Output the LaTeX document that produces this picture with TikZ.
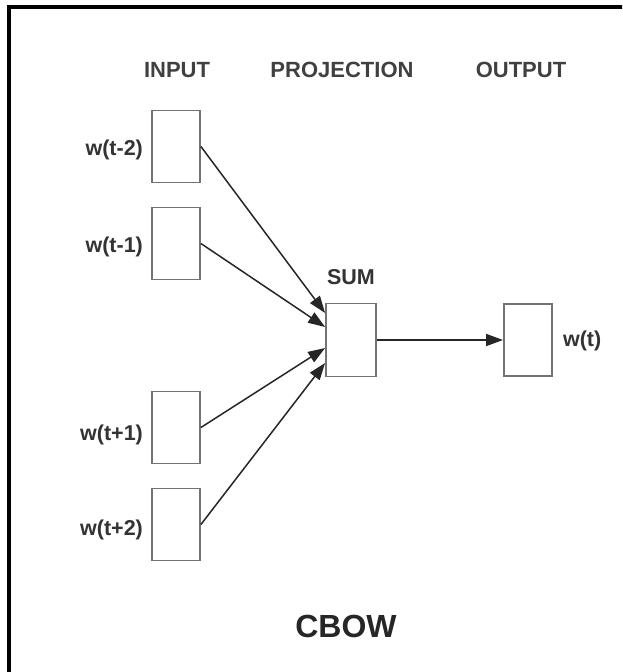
\documentclass[tikz,border=0pt]{standalone}
\usepackage{fontspec}
\setmainfont{Liberation Sans}
\usetikzlibrary{arrows.meta, positioning}

\begin{document}
\begin{tikzpicture}[x=1pt, y=-1pt,
    wordbox/.style={draw=gray!90!black, line width=1.8pt, fill=white, minimum width=48pt, minimum height=72pt, inner sep=0pt},
    wordlabel/.style={font=\bfseries\fontsize{21.5}{25}\selectfont, text=black!80, inner sep=0pt},
    headlabel/.style={font=\bfseries\fontsize{22}{26}\selectfont, text=black!75, inner sep=0pt},
    link/.style={draw=black!85, line width=1.5pt, -{Triangle[length=17pt,width=12pt]}}]
    \useasboundingbox (0,0) rectangle (622,672);
    % Frame
    \begin{scope}
        \clip (0,0) rectangle (622,672);
        \draw[line width=3.5pt] (9,7) rectangle (660,700);
    \end{scope}

    % Nodes
    \node (hin) at (177,70) [headlabel] {INPUT};
    \node (hproj) at (342,70) [headlabel] {PROJECTION};
    \node (hout) at (521,70) [headlabel] {OUTPUT};

    \node (in1) at (176,146.5) [wordbox] {};
    \node (in2) at (176,243.5) [wordbox] {};
    \node (in3) at (176,427.5) [wordbox] {};
    \node (in4) at (176,524.5) [wordbox] {};

    \node (lin1) [wordlabel, left=8pt of in1, yshift=-3pt] {w(t-2)};
    \node (lin2) [wordlabel, left=8pt of in2, yshift=-3pt] {w(t-1)};
    \node (lin3) [wordlabel, left=8pt of in3, yshift=-7pt] {w(t+1)};
    \node (lin4) [wordlabel, left=8pt of in4, yshift=-5pt] {w(t+2)};

    \node (sum) at (351,340) [wordbox, minimum width=50pt, minimum height=73pt] {};
    \node (lsum) [wordlabel, above=18pt of sum] {SUM};

    \node (out) at (528,340) [wordbox] {};
    \node (lout) [wordlabel, right=10pt of out, yshift=-1pt] {w(t)};

    \node (title) at (346,626) [font=\bfseries\fontsize{32}{36}\selectfont, text=black!85] {CBOW};

    % Edges
    \draw[link] (in1.east) -- ([yshift=27pt]sum.west);
    \draw[link] (in2.east) -- ([yshift=13pt]sum.west);
    \draw[link] (in3.east) -- ([yshift=-8pt]sum.west);
    \draw[link] (in4.east) -- ([yshift=-23pt]sum.west);

    \draw[link] (sum.east) -- (out.west);

\end{tikzpicture}
\end{document}
